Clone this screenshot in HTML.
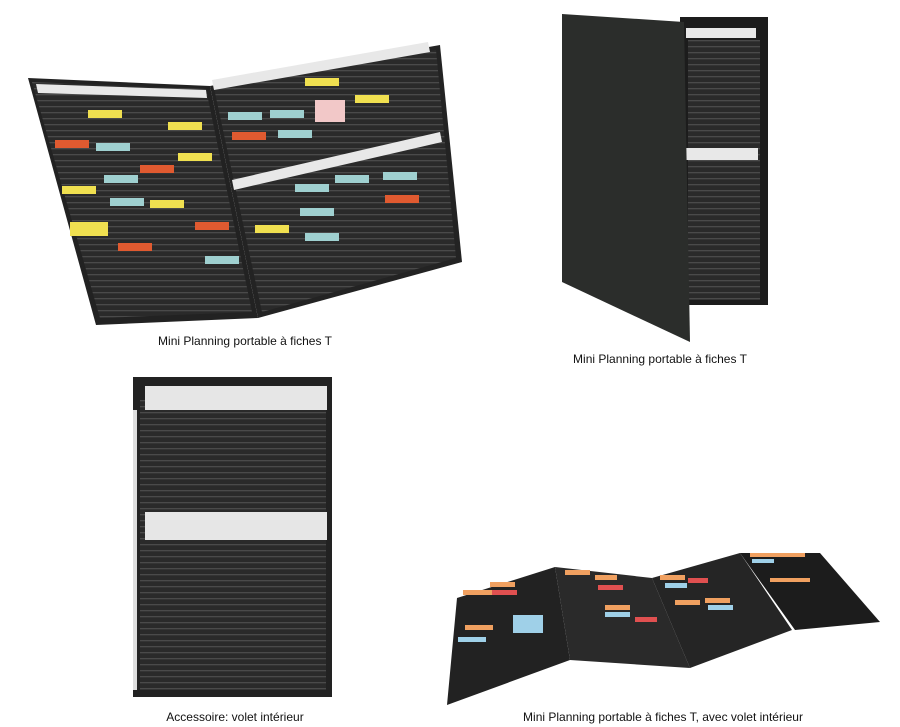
<!DOCTYPE html>
<html><head><meta charset="utf-8"><style>
body{margin:0;background:#fff;width:900px;height:727px;overflow:hidden;font-family:"Liberation Sans",sans-serif}
.c{position:absolute;font-size:12px;color:#111;white-space:nowrap;transform:translateX(-50%)}
</style></head><body>
<svg width="900" height="727" style="position:absolute;left:0;top:0">
<defs>
<pattern id="sl" width="10" height="6" patternUnits="userSpaceOnUse"><rect width="10" height="6" fill="#2a2a2a"/><rect y="4" width="10" height="1.3" fill="#4a4a4a"/></pattern>
</defs>
<!-- top-left open folder -->
<polygon points="28,78 210,86 258,318 96,325" fill="#222"/>
<polygon points="32,82 206,89 252,312 100,318" fill="url(#sl)"/>
<polygon points="210,86 440,45 462,262 258,318" fill="#232323"/>
<polygon points="214,88 436,50 456,258 262,312" fill="url(#sl)"/>
<polygon points="36,84 206,90 207,98 38,93" fill="#e8e8e8"/>
<polygon points="212,80 428,42 430,52 214,90" fill="#e8e8e8"/>
<polygon points="232,180 440,132 442,142 234,190" fill="#e8e8e8"/>
<g>
<rect x="88" y="110" width="34" height="8" fill="#f0e050"/><rect x="168" y="122" width="34" height="8" fill="#f0e050"/>
<rect x="55" y="140" width="34" height="8" fill="#e05a30"/><rect x="96" y="143" width="34" height="8" fill="#9fd0d0"/>
<rect x="178" y="153" width="34" height="8" fill="#f0e050"/><rect x="140" y="165" width="34" height="8" fill="#e05a30"/>
<rect x="104" y="175" width="34" height="8" fill="#9fd0d0"/><rect x="62" y="186" width="34" height="8" fill="#f0e050"/>
<rect x="110" y="198" width="34" height="8" fill="#9fd0d0"/><rect x="150" y="200" width="34" height="8" fill="#f0e050"/>
<rect x="70" y="222" width="38" height="14" fill="#f0e050"/><rect x="195" y="222" width="34" height="8" fill="#e05a30"/>
<rect x="118" y="243" width="34" height="8" fill="#e05a30"/><rect x="205" y="256" width="34" height="8" fill="#9fd0d0"/>
<rect x="305" y="78" width="34" height="8" fill="#f0e050"/><rect x="228" y="112" width="34" height="8" fill="#9fd0d0"/>
<rect x="270" y="110" width="34" height="8" fill="#9fd0d0"/><rect x="315" y="100" width="30" height="22" fill="#f2c8c8"/>
<rect x="355" y="95" width="34" height="8" fill="#f0e050"/><rect x="232" y="132" width="34" height="8" fill="#e05a30"/>
<rect x="278" y="130" width="34" height="8" fill="#9fd0d0"/><rect x="295" y="184" width="34" height="8" fill="#9fd0d0"/>
<rect x="335" y="175" width="34" height="8" fill="#9fd0d0"/><rect x="383" y="172" width="34" height="8" fill="#9fd0d0"/>
<rect x="385" y="195" width="34" height="8" fill="#e05a30"/><rect x="300" y="208" width="34" height="8" fill="#9fd0d0"/>
<rect x="255" y="225" width="34" height="8" fill="#f0e050"/><rect x="305" y="233" width="34" height="8" fill="#9fd0d0"/>
</g>
<!-- top-right folder -->
<rect x="680" y="17" width="88" height="288" fill="#1c1c1c"/>
<rect x="688" y="40" width="72" height="260" fill="url(#sl)"/>
<rect x="686" y="28" width="70" height="10" fill="#e8e8e8"/>
<rect x="686" y="148" width="72" height="12" fill="#e8e8e8"/>
<polygon points="562,14 684,22 690,342 562,282" fill="#2b2d2b"/>
<!-- bottom-left board -->
<rect x="133" y="377" width="199" height="320" fill="#222"/>
<rect x="140" y="400" width="186" height="290" fill="url(#sl)"/>
<rect x="145" y="386" width="182" height="24" fill="#e6e6e6"/>
<rect x="145" y="512" width="182" height="28" fill="#e6e6e6"/>
<rect x="133" y="410" width="4" height="280" fill="#ddd"/>
<!-- bottom-right zigzag -->
<polygon points="457,598 555,567 570,660 447,705" fill="#222"/>
<polygon points="555,567 652,578 690,668 570,660" fill="#2a2a2a"/>
<polygon points="652,578 740,553 792,630 690,668" fill="#252525"/>
<polygon points="740,553 820,553 880,622 795,630" fill="#1c1c1c"/>
<g fill="#f0a060"><rect x="463" y="590" width="30" height="5"/><rect x="490" y="582" width="25" height="5"/><rect x="465" y="625" width="28" height="5"/><rect x="565" y="570" width="25" height="5"/><rect x="595" y="575" width="22" height="5"/><rect x="605" y="605" width="25" height="5"/><rect x="660" y="575" width="25" height="5"/><rect x="675" y="600" width="25" height="5"/><rect x="705" y="598" width="25" height="5"/><rect x="750" y="553" width="55" height="4"/><rect x="770" y="578" width="40" height="4"/></g>
<g fill="#e05050"><rect x="492" y="590" width="25" height="5"/><rect x="598" y="585" width="25" height="5"/><rect x="635" y="617" width="22" height="5"/><rect x="688" y="578" width="20" height="5"/></g>
<g fill="#9fd0e8"><rect x="458" y="637" width="28" height="5"/><rect x="513" y="615" width="30" height="18"/><rect x="605" y="612" width="25" height="5"/><rect x="665" y="583" width="22" height="5"/><rect x="708" y="605" width="25" height="5"/><rect x="752" y="559" width="22" height="4"/></g>
</svg>
<div class="c" style="left:245px;top:334px">Mini Planning portable à fiches T</div>
<div class="c" style="left:660px;top:352px">Mini Planning portable à fiches T</div>
<div class="c" style="left:235px;top:710px">Accessoire: volet intérieur</div>
<div class="c" style="left:663px;top:710px">Mini Planning portable à fiches T, avec volet intérieur</div>
</body></html>
